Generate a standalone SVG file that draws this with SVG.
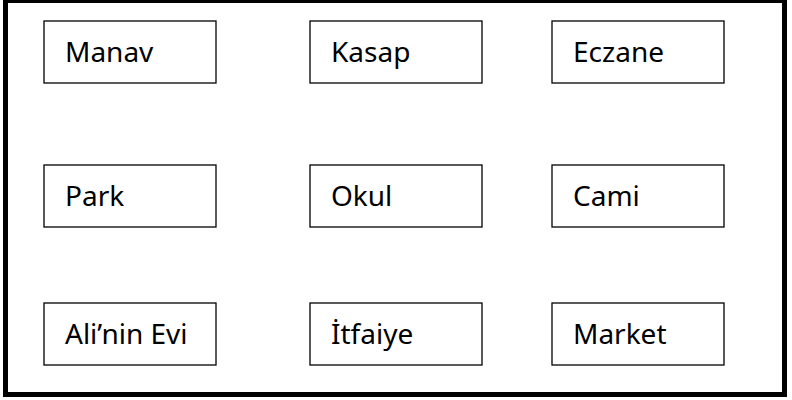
<svg xmlns="http://www.w3.org/2000/svg" width="792" height="400" viewBox="0 0 792 400">
<style>
.box{fill:#fff;stroke:#000;stroke-width:1.3}
.lbl{font-family:"Noto Sans","Open Sans",sans-serif;font-size:28px;fill:#000}
</style>
<rect x="0" y="0" width="792" height="400" fill="#fff"/>
<rect x="5.5" y="0.5" width="779" height="394" fill="none" stroke="#000" stroke-width="5"/>
<g id="connectors"></g>
<g id="manav"><rect class="box" x="44" y="21" width="172" height="62"/><text class="lbl" x="65" y="62">Manav</text></g>
<g id="kasap"><rect class="box" x="310" y="21" width="172" height="62"/><text class="lbl" x="331" y="62">Kasap</text></g>
<g id="eczane"><rect class="box" x="552" y="21" width="172" height="62"/><text class="lbl" x="573" y="62">Eczane</text></g>
<g id="park"><rect class="box" x="44" y="165" width="172" height="62"/><text class="lbl" x="65" y="206">Park</text></g>
<g id="okul"><rect class="box" x="310" y="165" width="172" height="62"/><text class="lbl" x="331" y="206">Okul</text></g>
<g id="cami"><rect class="box" x="552" y="165" width="172" height="62"/><text class="lbl" x="573" y="206">Cami</text></g>
<g id="alinin-evi"><rect class="box" x="44" y="303" width="172" height="62"/><text class="lbl" x="65" y="344">Ali’nin Evi</text></g>
<g id="itfaiye"><rect class="box" x="310" y="303" width="172" height="62"/><text class="lbl" x="331" y="344">İtfaiye</text></g>
<g id="market"><rect class="box" x="552" y="303" width="172" height="62"/><text class="lbl" x="573" y="344">Market</text></g>
</svg>
